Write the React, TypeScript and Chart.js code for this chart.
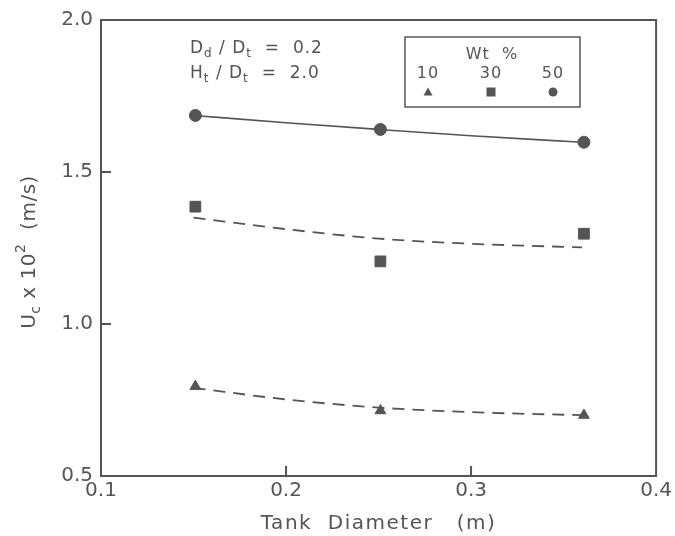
import React, { useEffect, useRef } from 'react';
import { Chart, registerables } from 'chart.js';
Chart.register(...registerables);

// Measured data (tank diameter in m, Uc x 10^2 in m/s)
const diameters = [0.151, 0.251, 0.361];
const wt10 = [0.795, 0.715, 0.7];
const wt30 = [1.386, 1.206, 1.297];
const wt50 = [1.686, 1.64, 1.598];

// Fitted curves
const fitX = [0.15, 0.2, 0.25, 0.3, 0.36];
const fit10 = [0.79, 0.752, 0.725, 0.71, 0.7];
const fit30 = [1.35, 1.312, 1.281, 1.264, 1.252];
const fit50 = [1.686, 1.662, 1.64, 1.619, 1.598];

const legendLabels = ['10', '30', '50'];
const xTicks = [0.1, 0.2, 0.3, 0.4];
const yTicks = [0.5, 1.0, 1.5, 2.0];

const INK = '#555555';
const FONT = '"DejaVu Sans", sans-serif';

const toPts = (xs: number[], ys: number[]) => xs.map((x, i) => ({ x, y: ys[i] }));

function drawPieces(ctx: CanvasRenderingContext2D, pieces: { t: string; s: number; dy?: number }[], x: number, y: number, center: boolean) {
  let total = 0;
  for (const p of pieces) {
    ctx.font = `${p.s}px ${FONT}`;
    total += ctx.measureText(p.t).width;
  }
  let cx = center ? x - total / 2 : x;
  for (const p of pieces) {
    ctx.font = `${p.s}px ${FONT}`;
    ctx.fillText(p.t, cx, y + (p.dy || 0));
    cx += ctx.measureText(p.t).width;
  }
}

function drawMarker(ctx: CanvasRenderingContext2D, kind: string, x: number, y: number, r: number) {
  ctx.beginPath();
  if (kind === 'circle') {
    ctx.arc(x, y, r, 0, Math.PI * 2);
  } else if (kind === 'rect') {
    ctx.rect(x - r, y - r, 2 * r, 2 * r);
  } else {
    ctx.moveTo(x, y - r);
    ctx.lineTo(x + r, y + r * 0.8);
    ctx.lineTo(x - r, y + r * 0.8);
    ctx.closePath();
  }
  ctx.fill();
}

const decorPlugin = {
  id: 'decor',
  afterDraw(chart: any) {
    const { ctx, chartArea: a, scales } = chart;
    ctx.save();
    ctx.strokeStyle = INK;
    ctx.fillStyle = INK;
    ctx.lineWidth = 2;
    ctx.strokeRect(a.left, a.top, a.right - a.left, a.bottom - a.top);
    // inward ticks
    ctx.beginPath();
    xTicks.slice(1, -1).forEach((v) => {
      const px = scales.x.getPixelForValue(v);
      ctx.moveTo(px, a.bottom);
      ctx.lineTo(px, a.bottom - 10);
    });
    yTicks.slice(1, -1).forEach((v) => {
      const py = scales.y.getPixelForValue(v);
      ctx.moveTo(a.left, py);
      ctx.lineTo(a.left + 10, py);
    });
    ctx.stroke();

    ctx.textAlign = 'left';
    ctx.textBaseline = 'alphabetic';
    (ctx as any).letterSpacing = '1.5px';
    // x title
    drawPieces(ctx, [{ t: 'Tank  Diameter   (m)', s: 20 }], (a.left + a.right) / 2, 529, true);

    // y title (rotated)
    (ctx as any).letterSpacing = '0.5px';
    ctx.save();
    ctx.translate(35, 252);
    ctx.rotate(-Math.PI / 2);
    drawPieces(ctx, [
      { t: 'U', s: 20 },
      { t: 'c', s: 14, dy: 5 },
      { t: ' x 10', s: 20 },
      { t: '2', s: 14, dy: -10 },
      { t: '  (m/s)', s: 20 },
    ], 0, 0, true);
    ctx.restore();

    // annotation
    (ctx as any).letterSpacing = '1px';
    drawPieces(ctx, [
      { t: 'D', s: 17 }, { t: 'd', s: 12, dy: 4 }, { t: ' / D', s: 17 }, { t: 't', s: 12, dy: 4 }, { t: '  =  0.2', s: 17 },
    ], 190, 53, false);
    drawPieces(ctx, [
      { t: 'H', s: 17 }, { t: 't', s: 12, dy: 4 }, { t: ' / D', s: 17 }, { t: 't', s: 12, dy: 4 }, { t: '  =  2.0', s: 17 },
    ], 190, 78, false);

    // legend box
    ctx.lineWidth = 1.5;
    ctx.strokeRect(405, 37, 175, 70);
    ctx.textAlign = 'center';
    ctx.textBaseline = 'middle';
    ctx.font = `16px ${FONT}`;
    ctx.fillText('Wt  %', 492, 55);
    const lx = [428, 491, 553];
    const kinds = ['triangle', 'rect', 'circle'];
    legendLabels.forEach((l, i) => {
      ctx.font = `16px ${FONT}`;
      ctx.fillText(l, lx[i], 74);
      drawMarker(ctx, kinds[i], lx[i], 92, 4.5);
    });
    ctx.restore();
  },
};

export default function App() {
  const ref = useRef<HTMLCanvasElement | null>(null);
  useEffect(() => {
    if (!ref.current) return;
    const fitStyle = { showLine: true, pointRadius: 0, borderColor: INK, borderWidth: 1.8, cubicInterpolationMode: 'monotone' as const, fill: false };
    const chart = new Chart(ref.current, {
      type: 'scatter',
      data: {
        datasets: [
          { label: 'fit50', data: toPts(fitX, fit50), ...fitStyle, borderWidth: 1.6 },
          { label: 'fit30', data: toPts(fitX, fit30), ...fitStyle, borderDash: [12, 8] },
          { label: 'fit10', data: toPts(fitX, fit10), ...fitStyle, borderDash: [12, 8] },
          { label: '50', data: toPts(diameters, wt50), pointStyle: 'circle', pointRadius: 6, backgroundColor: INK, borderColor: INK },
          { label: '30', data: toPts(diameters, wt30), pointStyle: 'rect', pointRadius: 7.6, backgroundColor: INK, borderColor: INK },
          { label: '10', data: toPts(diameters, wt10), pointStyle: 'triangle', pointRadius: 6.2, backgroundColor: INK, borderColor: INK },
        ] as any,
      },
      options: {
        animation: false,
        responsive: true,
        maintainAspectRatio: false,
        layout: { padding: { top: 17, right: 17, left: 0, bottom: 0 } },
        plugins: { legend: { display: false }, tooltip: { enabled: false } },
        scales: {
          x: {
            type: 'linear',
            min: 0.1,
            max: 0.4,
            afterBuildTicks: (s: any) => { s.ticks = xTicks.map((v) => ({ value: v })); },
            afterFit: (s: any) => { s.height = 60; },
            grid: { display: false, drawTicks: false },
            border: { display: false },
            ticks: { color: INK, font: { family: FONT, size: 20 }, padding: 3, callback: (v: any) => Number(v).toFixed(1) },
          },
          y: {
            type: 'linear',
            min: 0.5,
            max: 2.0,
            afterBuildTicks: (s: any) => { s.ticks = yTicks.map((v) => ({ value: v })); },
            afterFit: (s: any) => { s.width = 101; },
            grid: { display: false, drawTicks: false },
            border: { display: false },
            ticks: { color: INK, font: { family: FONT, size: 20 }, padding: 8, callback: (v: any) => Number(v).toFixed(1) },
          },
        },
      },
      plugins: [decorPlugin],
    });
    return () => chart.destroy();
  }, []);
  return (
    <div style={{ position: 'fixed', left: 0, top: 0, width: 675, height: 536, background: '#fff' }}>
      <canvas ref={ref} />
    </div>
  );
}
